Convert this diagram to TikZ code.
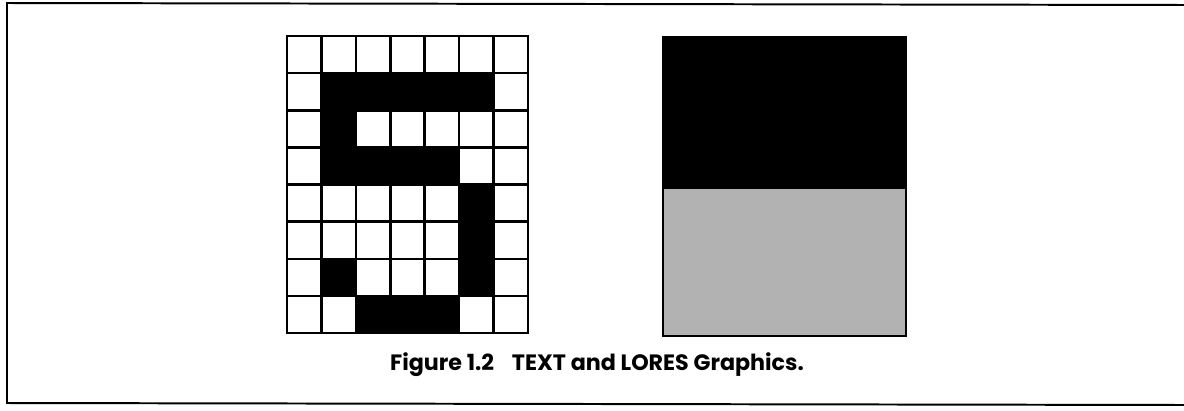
\documentclass[tikz,border=0pt]{standalone}
\usepackage{fontspec}
\setsansfont{Poppins}
\usetikzlibrary{positioning}

\begin{document}
\begin{tikzpicture}[
    x=0.025cm, y=-0.025cm,
    frameline/.style={line width=1.4pt},
    gridline/.style={line width=1.8pt, line cap=rect},
    textcell/.style={fill=black},
    captiontext/.style={font=\sffamily\bfseries\fontsize{15.8}{18}\selectfont, anchor=base}
]
\useasboundingbox (0,0) rectangle (1184,410);

% Rahmen
\draw[frameline] (1190,5) -- (7,3) -- (7,403) -- (1190,405);

% TEXT: Zeichenmatrix 7x8
\begin{scope}[shift={(287,36)}, x=0.8607cm, y=-0.9281cm]
  \foreach \c/\r in {1/1,2/1,3/1,4/1,5/1,1/2,1/3,2/3,3/3,4/3,5/4,5/5,1/6,5/6,2/7,3/7,4/7}
    \fill[textcell] (\c,\r) rectangle ++(1,1);
  \foreach \c in {0,...,7}
    \draw[gridline] (\c,0) -- (\c,8);
  \foreach \r in {0,...,8}
    \draw[gridline] (0,\r) -- (7,\r);
\end{scope}

% LORES: zwei Bloecke
\fill[black] (663,37) rectangle (906,189);
\fill[black!30] (663,189) rectangle (906,336);
\draw[line width=1.2pt] (663,37) rectangle (906,336);

% Bildunterschrift
\node[captiontext] (caption) at (597,370) {Figure 1.2\hspace{0.8em}TEXT and LORES Graphics.};

\end{tikzpicture}
\end{document}
